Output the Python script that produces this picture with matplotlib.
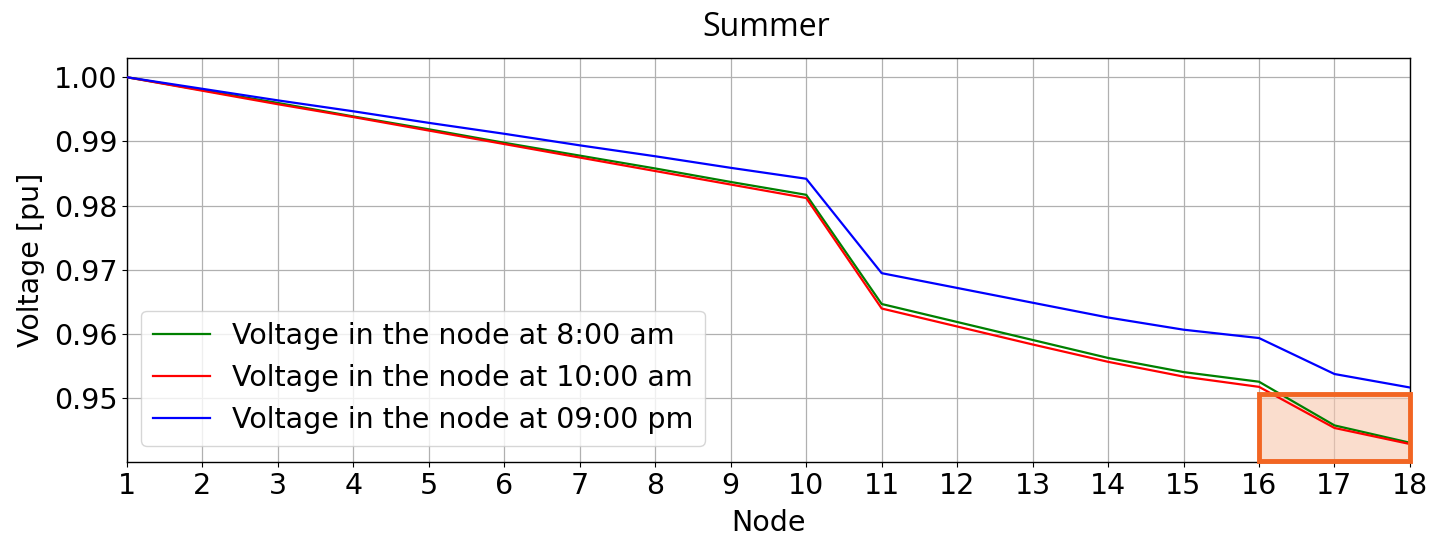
import matplotlib
matplotlib.use("Agg")
import matplotlib.pyplot as plt
from matplotlib.patches import Rectangle

nodes = list(range(1, 19))
v_8am = [1.0, 0.9980, 0.9960, 0.9939, 0.9919, 0.9898, 0.9878, 0.9858, 0.9837, 0.9817,
         0.9647, 0.9619, 0.9591, 0.9563, 0.9541, 0.9526, 0.9458, 0.9431]
v_10am = [1.0, 0.9979, 0.9958, 0.9938, 0.9917, 0.9896, 0.9875, 0.9854, 0.9833, 0.9812,
          0.9640, 0.9612, 0.9584, 0.9557, 0.9534, 0.9518, 0.9454, 0.9429]
v_9pm = [1.0, 0.9982, 0.9964, 0.9947, 0.9929, 0.9912, 0.9894, 0.9877, 0.9859, 0.9842,
         0.9695, 0.9672, 0.9649, 0.9626, 0.9607, 0.9594, 0.9538, 0.9517]
labels = ["Voltage in the node at 8:00 am", "Voltage in the node at 10:00 am",
          "Voltage in the node at 09:00 pm"]
yticks = [0.95, 0.96, 0.97, 0.98, 0.99, 1.00]
highlight_x = (16, 18)
highlight_y = (0.9403, 0.9507)

fs = 20.5
fig = plt.figure(figsize=(14.32, 5.41), dpi=100)
ax = fig.add_axes([0.0887, 0.146, 0.8959, 0.7468])

ax.plot(nodes, v_8am, color="green", lw=1.6, label=labels[0], zorder=3)
ax.plot(nodes, v_10am, color="red", lw=1.6, label=labels[1], zorder=3)
ax.plot(nodes, v_9pm, color="blue", lw=1.6, label=labels[2], zorder=3)

ax.set_xlim(1, 18)
ax.set_ylim(0.9401, 1.003)
ax.set_xticks(nodes)
ax.set_yticks(yticks)
ax.set_yticklabels([f"{t:.2f}" for t in yticks])
ax.tick_params(labelsize=fs)
ax.grid(True, color="#b0b0b0", lw=0.9)
ax.set_axisbelow(True)
ax.set_xlabel("Node", fontsize=fs, labelpad=7)
ax.set_ylabel("Voltage [pu]", fontsize=fs, labelpad=6)
for s in ax.spines.values():
    s.set_linewidth(1.0)

leg = ax.legend(loc="lower left", fontsize=fs, framealpha=0.8,
                bbox_to_anchor=(0.0, 0.005), handlelength=2.0)

ax.add_patch(Rectangle((highlight_x[0], highlight_y[0]),
                       highlight_x[1] - highlight_x[0], highlight_y[1] - highlight_y[0],
                       facecolor="#f8c7ad", alpha=0.6, edgecolor="none", zorder=2, clip_on=False))
ax.add_patch(Rectangle((highlight_x[0], highlight_y[0]),
                       highlight_x[1] - highlight_x[0], highlight_y[1] - highlight_y[0],
                       facecolor="none", edgecolor="#f26522", lw=3.5, zorder=4, clip_on=False))

fig.text(0.5353, 0.950, "Summer", ha="center", va="center", fontsize=23,
         family=["Open Sans", "DejaVu Sans"])

fig.savefig("out.png", dpi=100)
